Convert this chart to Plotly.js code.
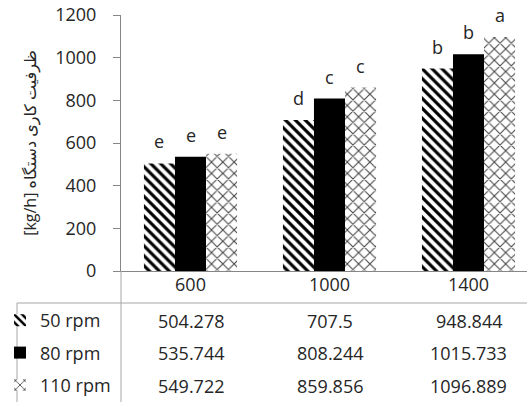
<!DOCTYPE html>
<html>
<head>
<meta charset="utf-8">
<script src="https://cdn.plot.ly/plotly-3.0.1.min.js"></script>
<style>html,body{margin:0;padding:0;background:#fff;}#chart{width:527px;height:402px;}</style>
</head>
<body>
<div id="chart"></div>
<script>
// ---- data ----
const categories = ['600', '1000', '1400'];
const seriesNames = ['50 rpm', '80 rpm', '110 rpm'];
const values50 = [504.278, 707.5, 948.844];
const values80 = [535.744, 808.244, 1015.733];
const values110 = [549.722, 859.856, 1096.889];
const letters50 = ['e', 'd', 'b'];
const letters80 = ['e', 'c', 'b'];
const letters110 = ['e', 'c', 'a'];
const yTickVals = [0, 200, 400, 600, 800, 1000, 1200];

// ---- styling / layout helpers ----
const FONT = 'Open Sans, DejaVu Sans, sans-serif';
const TXT = '#262626';
const AXIS = '#868686';
const TABLE = '#a6a6a6';
const W = 527, H = 402;
const M = {l: 121, r: 0, t: 15, b: 131, autoexpand: false};
const plotW = W - M.l - M.r, plotH = H - M.t - M.b;
const catPx = 139;                     // pixels per category
const xEnd = -0.5 + plotW / catPx;
const bargap = 0.33;
const barW = (1 - bargap) / 3;
const py = px => (H - M.b - px) / plotH;      // pixel y -> paper y
const pxX = px => (px - M.l) / plotW;         // pixel x -> paper x

const allValues = [values50, values80, values110];
const allLetters = [letters50, letters80, letters110];
const markers = [
  {color: 'black', pattern: {shape: '\\', fgcolor: 'black', bgcolor: 'white', size: 7, solidity: 0.45}, line: {width: 0}},
  {color: 'black', line: {width: 0}},
  {color: '#444', pattern: {shape: 'x', fgcolor: '#444', bgcolor: 'white', size: 8, solidity: 0.25}, line: {width: 0}}
];

const traces = seriesNames.map((name, i) => ({
  type: 'bar',
  name: name,
  x: categories,
  y: allValues[i],
  marker: markers[i],
  legendgroup: 'g' + i,
  hoverinfo: 'skip'
}));

const annotations = [];
// significance letters
allLetters.forEach((arr, i) => {
  arr.forEach((letter, j) => {
    annotations.push({
      x: j + (i - 1) * barW, y: allValues[i][j], xref: 'x', yref: 'y',
      text: letter, showarrow: false, yanchor: 'bottom', yshift: 8,
      font: {family: FONT, size: 18, color: TXT}
    });
  });
});
// data table values
const rowPx = [321, 353, 386];
allValues.forEach((arr, i) => {
  arr.forEach((v, j) => {
    annotations.push({
      x: j, xref: 'x', y: py(rowPx[i]), yref: 'paper',
      text: String(v), showarrow: false, yanchor: 'middle',
      font: {family: FONT, size: 18, color: TXT}
    });
  });
});

const shapes = [
  // y-axis line continued into the table
  {type: 'line', xref: 'paper', yref: 'paper', x0: 0, x1: 0, y0: 0, y1: py(H), line: {color: TABLE, width: 1}},
  // table top line
  {type: 'line', xref: 'paper', yref: 'paper', x0: pxX(17), x1: 1, y0: py(303), y1: py(303), line: {color: TABLE, width: 1}},
  // table left border
  {type: 'line', xref: 'paper', yref: 'paper', x0: pxX(17), x1: pxX(17), y0: py(303), y1: py(H), line: {color: TABLE, width: 1}}
];

const layout = {
  width: W, height: H,
  margin: M,
  paper_bgcolor: 'white', plot_bgcolor: 'white',
  font: {family: FONT, size: 18, color: TXT},
  barmode: 'group', bargap: bargap, bargroupgap: 0,
  xaxis: {
    type: 'category', range: [-0.5, xEnd],
    showline: true, linecolor: AXIS, linewidth: 1,
    ticks: '', showgrid: false, zeroline: false,
    ticklabelstandoff: -3,
    tickfont: {family: FONT, size: 18, color: TXT},
    automargin: false,
    fixedrange: true
  },
  yaxis: {
    range: [0, 1200], tickvals: yTickVals,
    showline: true, linecolor: AXIS, linewidth: 1,
    ticks: 'outside', ticklen: 7, tickcolor: AXIS,
    ticklabelstandoff: 13,
    showgrid: false, zeroline: false,
    tickfont: {family: FONT, size: 18, color: TXT},
    title: {text: '[kg/h] ظرفیت کاری دستگاه', font: {family: FONT, size: 16, color: TXT}, standoff: 14},
    automargin: false,
    fixedrange: true
  },
  showlegend: true,
  legend: {
    x: pxX(0), xanchor: 'left', y: py(302), yanchor: 'top',
    traceorder: 'grouped', tracegroupgap: 6,
    font: {family: FONT, size: 18, color: TXT},
    bgcolor: 'rgba(0,0,0,0)', borderwidth: 0
  },
  annotations: annotations,
  shapes: shapes
};

Plotly.newPlot('chart', traces, layout, {displayModeBar: false, staticPlot: true});
</script>
</body>
</html>
